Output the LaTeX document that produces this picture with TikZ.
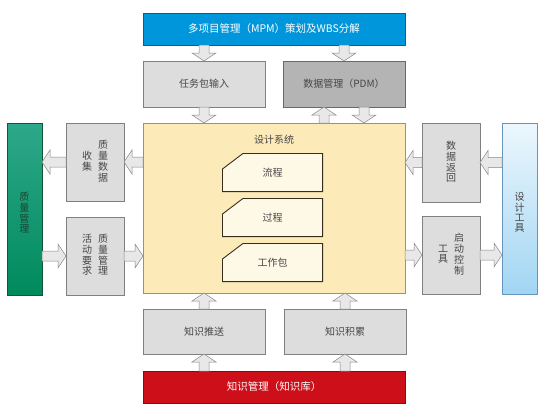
\documentclass[tikz,border=0pt]{standalone}
\usepackage{fontspec}
\setmainfont{Noto Sans CJK SC}
\usepackage{xcolor}
\usepackage{tikz}
\usetikzlibrary{calc, positioning}
\definecolor{txtgray}{RGB}{70,70,70}
\definecolor{mpmblue}{RGB}{0,150,220}
\definecolor{mpmline}{RGB}{0,95,160}
\definecolor{boxgray}{RGB}{221,221,221}
\definecolor{boxline}{RGB}{128,128,128}
\definecolor{pdmgray}{RGB}{180,180,180}
\definecolor{pdmline}{RGB}{105,105,105}
\definecolor{sysfill}{RGB}{253,234,185}
\definecolor{sysline}{RGB}{165,145,105}
\definecolor{stepfill}{RGB}{254,248,231}
\definecolor{stepline}{RGB}{55,45,30}
\definecolor{greentop}{RGB}{45,168,138}
\definecolor{greenbot}{RGB}{0,138,92}
\definecolor{greenline}{RGB}{20,85,55}
\definecolor{greentxt}{RGB}{25,70,50}
\definecolor{tooltop}{RGB}{236,247,253}
\definecolor{toolbot}{RGB}{162,213,243}
\definecolor{toolline}{RGB}{100,150,190}
\definecolor{kbred}{RGB}{205,15,25}
\definecolor{kbline}{RGB}{140,10,15}
\definecolor{arrfill}{RGB}{232,232,232}
\definecolor{arrline}{RGB}{135,135,135}
\tikzstyle{bar} = [rectangle, minimum width=262pt, minimum height=32pt, inner sep=0pt, outer sep=0pt, text=white, font=\fontsize{10.5}{12}\selectfont]
\tikzstyle{mpmbar} = [bar, draw=mpmline, fill=mpmblue]
\tikzstyle{kbbar} = [bar, draw=kbline, fill=kbred]
\tikzstyle{inbox} = [rectangle, minimum width=122pt, minimum height=46pt, inner sep=0pt, outer sep=0pt, draw=boxline, fill=boxgray, text=txtgray, font=\fontsize{10}{12}\selectfont]
\tikzstyle{pdmbox} = [inbox, draw=pdmline, fill=pdmgray]
\tikzstyle{sidebox} = [rectangle, minimum width=58pt, minimum height=78pt, inner sep=0pt, outer sep=0pt, draw=boxline, fill=boxgray, text=txtgray, font=\fontsize{10}{12}\selectfont]
\tikzstyle{pillar} = [rectangle, minimum width=35pt, minimum height=172pt, inner sep=0pt, outer sep=0pt, font=\fontsize{10}{12}\selectfont]
\tikzstyle{system} = [rectangle, minimum width=262pt, minimum height=170pt, inner sep=0pt, outer sep=0pt, draw=sysline, fill=sysfill]
\tikzstyle{stepbox} = [rectangle, minimum width=101pt, minimum height=39pt, inner sep=0pt, outer sep=0pt, fill=sysfill, text=txtgray, font=\fontsize{10}{12}\selectfont,
	path picture={\draw [stepline, line width=0.9pt, fill=stepfill, line join=miter]
		([xshift=0.45pt, yshift=-16pt]path picture bounding box.north west) --
		([xshift=21pt, yshift=-0.45pt]path picture bounding box.north west) --
		([xshift=-0.45pt, yshift=-0.45pt]path picture bounding box.north east) --
		([xshift=-0.45pt, yshift=0.45pt]path picture bounding box.south east) --
		([xshift=0.45pt, yshift=0.45pt]path picture bounding box.south west) -- cycle;}]
\tikzstyle{blk} = [draw=arrline, fill=arrfill, line width=0.5pt, line join=miter]
\newcommand{\vcol}[1]{{\renewcommand{\arraystretch}{0.7}\begin{tabular}{@{}c@{}}#1\end{tabular}}}
\newcommand{\lowered}[1]{\raisebox{-5pt}[\height][\depth]{#1}}
\newcommand{\flowarrow}[2]{%
	\draw [blk] let \p1=(#1), \p2=(#2), \n1={veclen(\x2-\x1,\y2-\y1)}, \n2={(\x2-\x1)/\n1}, \n3={(\y2-\y1)/\n1} in
	({\x1-(\n3)*5pt}, {\y1+(\n2)*5pt}) --
	({\x2-(\n2)*8pt-(\n3)*5pt}, {\y2-(\n3)*8pt+(\n2)*5pt}) --
	({\x2-(\n2)*8pt-(\n3)*12pt}, {\y2-(\n3)*8pt+(\n2)*12pt}) --
	(\x2, \y2) --
	({\x2-(\n2)*8pt+(\n3)*12pt}, {\y2-(\n3)*8pt-(\n2)*12pt}) --
	({\x2-(\n2)*8pt+(\n3)*5pt}, {\y2-(\n3)*8pt-(\n2)*5pt}) --
	({\x1+(\n3)*5pt}, {\y1-(\n2)*5pt}) -- cycle;}
\begin{document}
\begin{tikzpicture}[x=1pt, y=-1pt]
			\useasboundingbox (0,0) rectangle (550,415);
			
			\node (mpm) [mpmbar] at (274,29) {多项目管理（MPM）策划及WBS分解};
			
			\node (task) [inbox, below right=16pt and 0pt of mpm.south west] {任务包输入};
			
			\node (pdm) [pdmbox, below left=16pt and 0pt of mpm.south east] {数据管理（PDM）};
			
			\node (design) [system, below right=16pt and 0pt of task.south west] {};
			
			\node (syslabel) [below=12pt of design.north, inner sep=0pt, text=txtgray, font=\fontsize{10}{12}\selectfont] {设计系统};
			
			\node (flow) [stepbox, below=30pt of design.north, xshift=-1.5pt] {流程};
			
			\node (proc) [stepbox, below=6pt of flow] {过程};
			
			\node (wp) [stepbox, below=6pt of proc] {工作包};
			
			\node (push) [inbox, below right=16pt and 0pt of design.south west, minimum height=45pt] {知识推送};
			
			\node (accum) [inbox, below left=16pt and -1pt of design.south east, minimum height=45pt] {知识积累};
			
			\node (kb) [kbbar, below right=17pt and 0pt of push.south west] {知识管理（知识库）};
			
			\node (qdata) [sidebox, below left=0pt and 19pt of design.north west] {\vcol{收\\集}\hspace{6pt}\vcol{质\\量\\数\\据}};
			
			\node (act) [sidebox, below=16pt of qdata] {\vcol{活\\动\\要\\求}\hspace{6pt}\vcol{质\\量\\管\\理}};
			
			\node (qmgmt) [pillar, below left=0pt and 24pt of qdata.north west, draw=greenline, top color=greentop, bottom color=greenbot, text=greentxt] {\lowered{\vcol{质\\量\\管\\理}}};
			
			\node (datab) [sidebox, below right=0pt and 17pt of design.north east, minimum height=79pt] {\vcol{数\\据\\返\\回}};
			
			\node (launch) [sidebox, below=14pt of datab] {\vcol{工\\具}\hspace{6pt}\vcol{启\\动\\控\\制}};
			
			\node (tools) [pillar, below right=0pt and 22pt of datab.north east, minimum height=171pt, draw=toolline, top color=tooltop, bottom color=toolbot, text=txtgray] {\lowered{\vcol{设\\计\\工\\具}}};
			
			\coordinate (pdmup) at ($(pdm.south)+(-20,0)$);
			\coordinate (pdmdown) at ($(pdm.south)+(20,0)$);
			
			\flowarrow{task.north |- mpm.south}{task.north}
			\flowarrow{pdm.north |- mpm.south}{pdm.north}
			\flowarrow{task.south}{task.south |- design.north}
			\flowarrow{pdmup |- design.north}{pdmup}
			\flowarrow{pdmdown}{pdmdown |- design.north}
			\flowarrow{design.west |- qdata.east}{qdata.east}
			\flowarrow{qdata.west}{qmgmt.east |- qdata.west}
			\flowarrow{qmgmt.east |- act.west}{act.west}
			\flowarrow{act.east}{design.west |- act.east}
			\flowarrow{datab.west}{design.east |- datab.west}
			\flowarrow{tools.west |- datab.east}{datab.east}
			\flowarrow{design.east |- launch.west}{launch.west}
			\flowarrow{launch.east}{tools.west |- launch.east}
			\flowarrow{push.north}{push.north |- design.south}
			\flowarrow{push.south |- kb.north}{push.south}
			\flowarrow{accum.north}{accum.north |- design.south}
			\flowarrow{accum.south |- kb.north}{accum.south}
			
		\end{tikzpicture}
\end{document}
